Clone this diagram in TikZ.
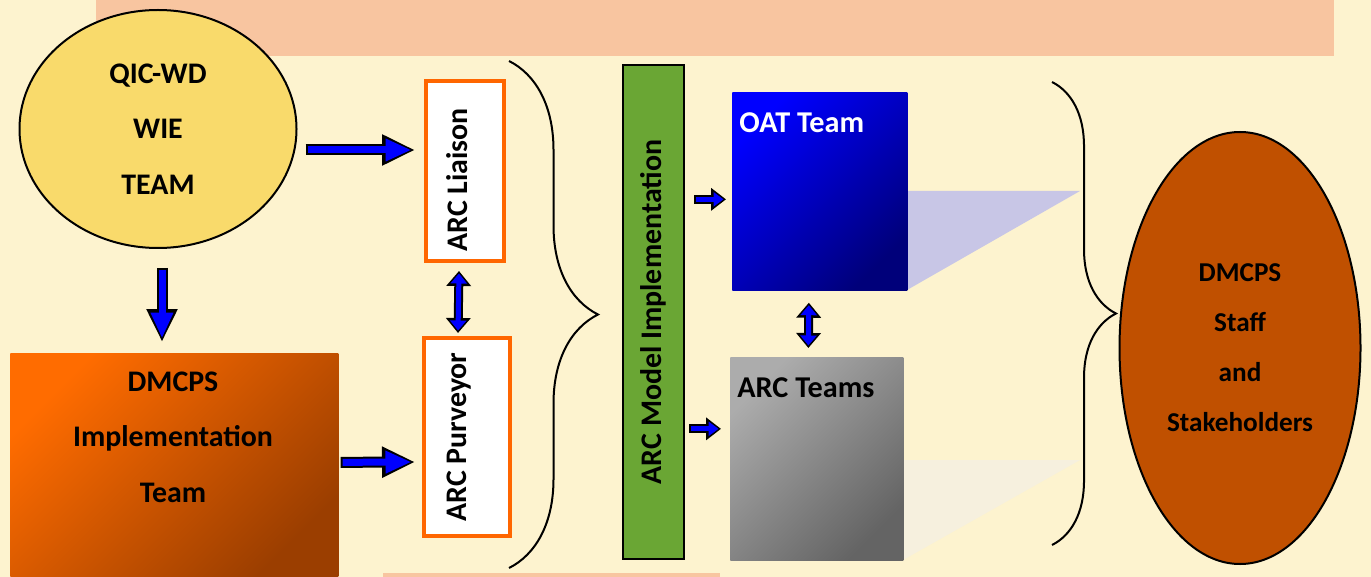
\documentclass[tikz,border=0pt]{standalone}
\usepackage{fontspec}
\setmainfont{Carlito}
\usepackage{graphicx}
\usetikzlibrary{arrows.meta, positioning, calc, shapes.geometric, decorations.pathreplacing}

\newlength{\pu}
\setlength{\pu}{0.02cm}

\definecolor{cream}{RGB}{253,243,207}
\definecolor{salmon}{RGB}{248,197,160}
\definecolor{sunyellow}{RGB}{249,218,107}
\definecolor{implhi}{RGB}{255,108,0}
\definecolor{implmid}{RGB}{222,92,0}
\definecolor{impllo}{RGB}{155,62,0}
\definecolor{roleline}{RGB}{255,102,0}
\definecolor{barGreen}{RGB}{106,166,52}
\definecolor{oathi}{RGB}{0,0,255}
\definecolor{oatlo}{RGB}{0,0,122}
\definecolor{archi}{RGB}{172,172,172}
\definecolor{arcmid}{RGB}{205,205,205}
\definecolor{arclo}{RGB}{100,100,100}
\definecolor{lavshadow}{RGB}{200,198,230}
\definecolor{paleshadow}{RGB}{246,240,222}
\definecolor{staffbrown}{RGB}{192,80,0}

\newcommand{\fatarrow}[2]{%
  \draw[fatout] #1 -- #2;
  \draw[fatin] #1 -- #2;}
\newcommand{\smallarrow}[2]{%
  \draw[smallout] #1 -- #2;
  \draw[smallin] #1 -- #2;}
\newcommand{\twoway}[2]{%
  \draw[twoout] #1 -- #2;
  \draw[twoin] #1 -- #2;}
% rotated label, lifted off the centre line a little
\newcommand{\uptext}[2][0pt]{\rotatebox{90}{\raisebox{8\pu}[\height][\depth]{#2\hspace{#1}}}}

\begin{document}
\begin{tikzpicture}[
    x=0.02cm, y=-0.02cm,
    txt/.style={font=\fontsize{17}{31.5}\selectfont\bfseries, align=center},
    vtxt/.style={font=\fontsize{17}{20}\selectfont\bfseries},
    team/.style={ellipse, draw=black, line width=2\pu, fill=sunyellow, txt},
    implbox/.style={rectangle, anchor=north west, minimum width=328\pu,
                    minimum height=224\pu, top color=implhi, middle color=implmid,
                    bottom color=impllo, shading angle=45},
    rolebox/.style={rectangle, draw=roleline, line width=4\pu, fill=white,
                    inner sep=0pt, vtxt},
    greenbar/.style={rectangle, draw=black, line width=2.5\pu, fill=barGreen,
                     inner sep=0pt, vtxt},
    oatbox/.style={rectangle, anchor=north west, top color=oathi,
                   bottom color=oatlo, shading angle=45},
    arcbox/.style={rectangle, anchor=north west, top color=archi,
                   middle color=arcmid, bottom color=arclo, shading angle=45},
    lbl/.style={anchor=north west, inner sep=0pt, xshift=7\pu, yshift=-20\pu,
                font=\fontsize{17.2}{20}\selectfont\bfseries},
    curly/.style={decorate, line width=2\pu, black},
    fatout/.style={black, line width=0.22cm, -{Triangle[length=0.66cm, width=0.58cm]}},
    fatin/.style={blue, line width=0.14cm, -{Triangle[length=0.52cm, width=0.42cm]},
                  shorten >=0.07cm, shorten <=0.04cm},
    smallout/.style={black, line width=0.18cm, -{Triangle[length=0.30cm, width=0.44cm]}},
    smallin/.style={blue, line width=0.10cm, -{Triangle[length=0.20cm, width=0.28cm]},
                    shorten >=0.05cm, shorten <=0.04cm},
    twoout/.style={black, line width=0.18cm,
                   {Triangle[length=0.30cm, width=0.48cm]}-{Triangle[length=0.30cm, width=0.48cm]}},
    twoin/.style={blue, line width=0.10cm,
                  {Triangle[length=0.20cm, width=0.32cm]}-{Triangle[length=0.20cm, width=0.32cm]},
                  shorten >=0.05cm, shorten <=0.05cm},
]

%% Background
\useasboundingbox (0,0) rectangle (1371,577);
\fill[cream] (0,0) rectangle (1371,577);
\fill[salmon] (96,0) rectangle (1334,56);
\fill[salmon] (383,573) rectangle (720,577);

%% Left column
\node[team, minimum width=277\pu, minimum height=238\pu] (qic) at (158,129)
    {QIC-WD\\WIE\\TEAM};
\node[implbox] (impl) at (10,353) {};
\node[txt] (impltxt) at (173,437) {DMCPS\\Implementation\\Team};

%% ARC roles
\node[rolebox, minimum width=78\pu, minimum height=180\pu] (liaison) at (465,171)
    {\uptext[18\pu]{ARC Liaison}};
\node[rolebox, minimum width=86\pu, minimum height=198\pu] (purveyor) at (467,437)
    {\uptext{ARC Purveyor}};

%% Model bar and teams
\node[greenbar, minimum width=61\pu, minimum height=494\pu] (model) at (653.5,312)
    {\rotatebox{90}{ARC Model Implementation}};

\fill[lavshadow] (907,290) -- ++(0,-99) -- ++(173,0) -- cycle;
\fill[paleshadow] (903,560) -- ++(0,-100) -- ++(177,0) -- cycle;

\node[oatbox, minimum width=175\pu, minimum height=198\pu,
      label={[lbl, text=white]north west:OAT Team}] (oat) at (732,92) {};
\node[arcbox, minimum width=173\pu, minimum height=203\pu,
      label={[lbl, text=black]north west:ARC Teams}] (arcteams) at (730,357) {};

%% Stakeholders
\node[ellipse, draw=black, line width=2\pu, fill=staffbrown,
      minimum width=241\pu, minimum height=432\pu,
      font=\fontsize{15.5}{28.5}\selectfont\bfseries, align=center] (staff) at (1240,348)
    {DMCPS\\Staff\\and\\Stakeholders};

%% Braces
\draw[curly, decoration={brace, amplitude=89\pu}] (509,61) -- (509,568);
\draw[curly, decoration={brace, amplitude=64\pu}] (1052,82) -- (1052,545);

%% Arrows
\coordinate (q1) at ($(qic.east)+(8,21)$);
\coordinate (q2) at ($(liaison.west)+(-9,-21)$);
\fatarrow{(q1)}{(q2)}

\coordinate (q3) at ($(qic.south)+(4,19)$);
\coordinate (q4) at ($(q3 |- impl.north)+(0,-11)$);
\fatarrow{(q3)}{(q4)}

\coordinate (q5) at ($(impl.east)+(2,-3)$);
\coordinate (q6) at ($(purveyor.west)+(-7,25)$);
\fatarrow{(q5)}{(q6)}

\twoway{($(liaison.south)+(-6,8)$)}{($(purveyor.north)+(-9,-3)$)}

\smallarrow{($(model.east |- oat.west)+(9,8)$)}{($(oat.west)+(-6,8)$)}
\smallarrow{($(model.east |- arcteams.west)+(4,-30)$)}{($(arcteams.west)+(-9,-30)$)}

\twoway{($(oat.south)+(-11,12)$)}{($(arcteams.north)+(-8.5,-9)$)}

\end{tikzpicture}
\end{document}
